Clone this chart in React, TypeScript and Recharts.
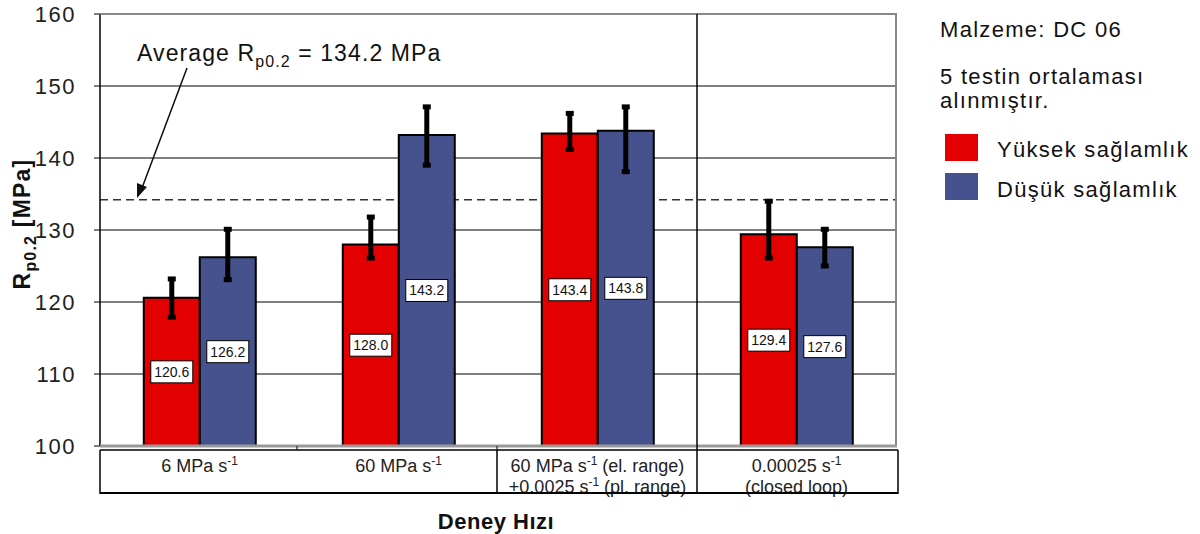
import { Bar, BarChart, CartesianGrid, ErrorBar, LabelList, XAxis, YAxis } from "recharts";

const FONT = "'Liberation Sans', Arial, sans-serif";

// test speeds (x categories) and their two-line labels, "^" marks the superscript
const speeds = ["6 MPa", "60 MPa", "60 MPa + 0.0025", "0.00025"];
const speedLines = [
  ["6 MPa s^-1"],
  ["60 MPa s^-1"],
  ["60 MPa s^-1 (el. range)", "+0.0025 s^-1 (pl. range)"],
  ["0.00025 s^-1", "(closed loop)"],
];

const highStrength = [120.6, 128.0, 143.4, 129.4];
const lowStrength = [126.2, 143.2, 143.8, 127.6];
// [below, above]
const highErr = [[2.7, 2.6], [1.9, 3.8], [2.2, 2.8], [3.3, 4.6]];
const lowErr = [[3.1, 3.9], [4.2, 3.9], [5.7, 3.3], [2.6, 2.5]];

const yTicks = [100, 110, 120, 130, 140, 150, 160];
const average = 134.2;

const data = speeds.map((speed, i) => ({
  speed,
  high: highStrength[i],
  low: lowStrength[i],
  highErr: highErr[i],
  lowErr: lowErr[i],
}));

function SupLine({ text, x, y }: { text: string; x: number; y: number }) {
  const [before, after] = text.split("^-1");
  return (
    <text x={x} y={y} textAnchor="middle" fontSize={18} fontFamily={FONT} fill="#222">
      <tspan>{before}</tspan>
      {after !== undefined && (
        <>
          <tspan dy={-7} fontSize={12}>-1</tspan>
          <tspan dy={7}>{after}</tspan>
        </>
      )}
    </text>
  );
}

function SpeedTick(props: any) {
  const { x, y, payload } = props;
  const lines = speedLines[speeds.indexOf(payload.value)] || [];
  return (
    <g>
      {lines.map((l, i) => (
        <SupLine key={i} text={l} x={x} y={y + 18 + i * 21} />
      ))}
    </g>
  );
}

function ValueBox(props: any) {
  const { x, y, width, height, value } = props;
  const cx = x + width / 2;
  const cy = y + height / 2;
  return (
    <g>
      <rect x={cx - 21} y={cy - 11} width={42} height={22} fill="#fff" stroke="#000" strokeWidth={1} />
      <text x={cx} y={cy + 5} textAnchor="middle" fontSize={14} fontFamily={FONT} fill="#111">
        {Number(value).toFixed(1)}
      </text>
    </g>
  );
}

function Overlay() {
  return (
    <svg width={1200} height={534} style={{ position: "absolute", left: 0, top: 0, pointerEvents: "none" }}>
      {/* plot frame */}
      <line x1={100} y1={14} x2={897} y2={14} stroke="#888" strokeWidth={2} />
      <line x1={896} y1={14} x2={896} y2={446} stroke="#888" strokeWidth={2} />
      <line x1={100} y1={446} x2={897} y2={446} stroke="#999" strokeWidth={3} />
      <line x1={697} y1={14} x2={697} y2={494} stroke="#000" strokeWidth={1.5} />
      <line x1={297} y1={446} x2={297} y2={450} stroke="#000" strokeWidth={1} />
      <line x1={497} y1={446} x2={497} y2={450} stroke="#000" strokeWidth={1} />
      {/* category table */}
      <line x1={100} y1={450} x2={898} y2={450} stroke="#000" strokeWidth={1.5} />
      <line x1={100} y1={493} x2={898} y2={493} stroke="#000" strokeWidth={2} />
      <line x1={100} y1={450} x2={100} y2={494} stroke="#000" strokeWidth={1.5} />
      <line x1={497} y1={450} x2={497} y2={494} stroke="#000" strokeWidth={1.5} />
      <line x1={898} y1={450} x2={898} y2={494} stroke="#000" strokeWidth={1.5} />

      {/* axis titles */}
      <text x={496} y={529} textAnchor="middle" fontSize={22} fontWeight="bold" fontFamily={FONT} fill="#111" letterSpacing={0.5}>
        Deney Hızı
      </text>
      <text transform="translate(30 224) rotate(-90)" textAnchor="middle" fontSize={23} fontWeight="bold" fontFamily={FONT} fill="#111" letterSpacing={1.2}>
        R<tspan fontSize={16} dy={6}>p0.2</tspan>
        <tspan dy={-6}> [MPa]</tspan>
      </text>

      {/* average annotation */}
      <text x={137} y={61} fontSize={23} fontFamily={FONT} fill="#111" letterSpacing={1.1}>
        Average R<tspan fontSize={16} dy={6}>p0.2</tspan>
        <tspan dy={-6}> = 134.2 MPa</tspan>
      </text>
      <line x1={187} y1={68} x2={142} y2={188} stroke="#111" strokeWidth={1.5} />
      <polygon points="137,198 137,183 147,187" fill="#111" />

      {/* side notes and legend */}
      <g fontFamily={FONT} fontSize={22} fill="#111" letterSpacing={1.3}>
        <text x={940} y={37}>Malzeme: DC 06</text>
        <text x={940} y={84}>5 testin ortalaması</text>
        <text x={940} y={108}>alınmıştır.</text>
        <rect x={945} y={134} width={33} height={27} fill="#e30000" />
        <text x={997} y={157}>Yüksek sağlamlık</text>
        <rect x={945} y={173} width={33} height={27} fill="#45528e" />
        <text x={997} y={197}>Düşük sağlamlık</text>
      </g>
    </svg>
  );
}

export default function App() {
  return (
    <div style={{ position: "absolute", left: 0, top: 0, width: 1200, height: 534, background: "#fff" }}>
      <BarChart
        width={1200}
        height={534}
        data={data}
        margin={{ top: 14, right: 304, bottom: 40, left: 0 }}
        barCategoryGap="22%"
        barGap={0}
      >
        <CartesianGrid vertical={false} stroke="#000" strokeWidth={1} />
        {/* average line, kept under the bars */}
        <CartesianGrid vertical={false} horizontalValues={[average]} stroke="#333" strokeWidth={1.5} strokeDasharray="8 5" />
        <XAxis dataKey="speed" height={48} axisLine={false} tickLine={false} interval={0} tick={<SpeedTick />} />
        <YAxis
          width={100}
          domain={[100, 160]}
          ticks={yTicks}
          interval={0}
          axisLine={{ stroke: "#000", strokeWidth: 1.5 }}
          tickLine={{ stroke: "#000" }}
          tickSize={6}
          tickMargin={18}
          tick={{ fontSize: 22, fill: "#222", fontFamily: FONT, letterSpacing: 1.5 }}
        />
        <Bar dataKey="high" fill="#e30000" stroke="#000" strokeWidth={2} isAnimationActive={false}>
          <ErrorBar dataKey="highErr" width={4} stroke="#000" strokeWidth={5} />
          <LabelList dataKey="high" content={<ValueBox />} />
        </Bar>
        <Bar dataKey="low" fill="#45528e" stroke="#000" strokeWidth={2} isAnimationActive={false}>
          <ErrorBar dataKey="lowErr" width={4} stroke="#000" strokeWidth={5} />
          <LabelList dataKey="low" content={<ValueBox />} />
        </Bar>
      </BarChart>
      <Overlay />
    </div>
  );
}
